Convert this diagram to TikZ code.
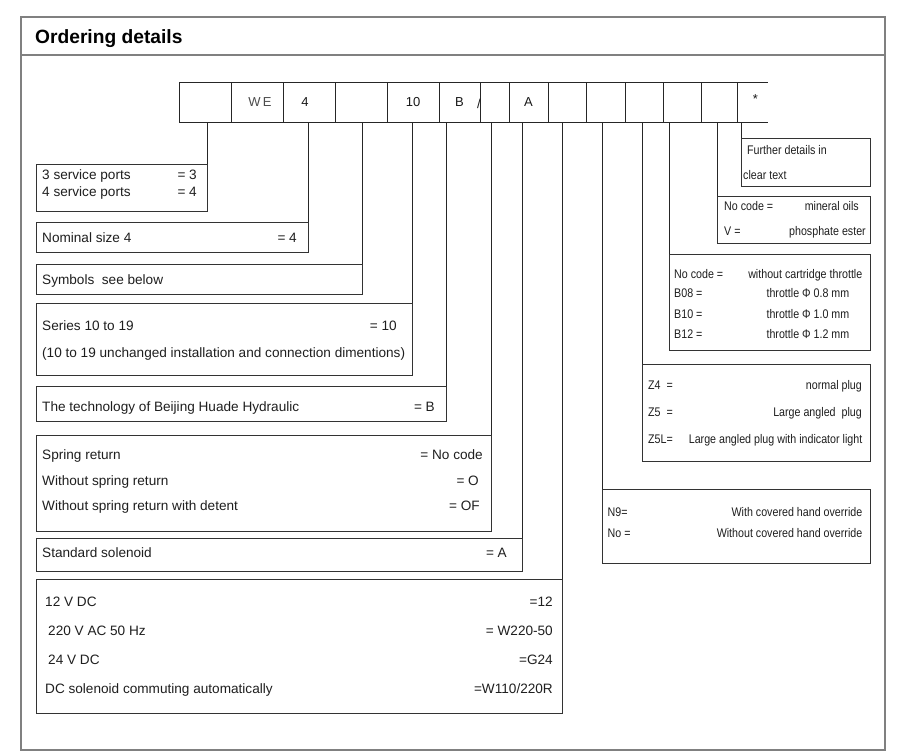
\documentclass[tikz,border=0pt]{standalone}
\usepackage{fontspec}
\setmainfont{Liberation Sans}
\newfontfamily\narrowfont{Liberation Sans}[FakeStretch=0.855]
\begin{document}
\begin{tikzpicture}[x=1pt,y=-1pt,
  frame/.style={draw=black!50, line width=1.3pt},
  box/.style={draw=black!80, line width=0.95pt, anchor=north west, inner sep=0pt, outer sep=0pt},
  cell/.style={draw=black!85, line width=0.8pt, anchor=north west, inner sep=0pt, outer sep=0pt, minimum height=40pt},
  conn/.style={draw=black!85, line width=0.8pt},
  ctext/.style={inner sep=0pt, font=\fontsize{13}{15}\selectfont, text=black!90},
  L/.style={inner sep=0pt, anchor=base west, yshift=-4.7pt, font=\fontsize{13.6}{16}\selectfont, text=black!88},
  R/.style={L, anchor=base east},
  NL/.style={inner sep=0pt, anchor=base west, yshift=-4.3pt, font=\narrowfont\fontsize{12.5}{15}\selectfont, text=black!88},
  NR/.style={NL, anchor=base east}]
\useasboundingbox (0,0) rectangle (913,753);
\fill[white] (0,0) rectangle (913,753);
% outer frame
\draw[frame] (21,17) rectangle (885,750);
\draw[frame] (21,55) -- (885,55);
\node[anchor=west, inner sep=0pt, font=\bfseries\fontsize{19.2}{22}\selectfont] (title) at (35,39) {Ordering details};
% code row
\node[cell, minimum width=52pt] (k1) at (179,82) {};
\node[cell, minimum width=52pt] (k2) at (k1.north east) {};
\node[cell, minimum width=52pt] (k3) at (k2.north east) {};
\node[cell, minimum width=52pt] (k4) at (k3.north east) {};
\node[cell, minimum width=52pt] (k5) at (k4.north east) {};
\node[cell, minimum width=41pt] (k6) at (k5.north east) {};
\node[cell, minimum width=29pt] (k7) at (k6.north east) {};
\node[cell, minimum width=39pt] (k8) at (k7.north east) {};
\node[cell, minimum width=38pt] (k9) at (k8.north east) {};
\node[cell, minimum width=39pt] (k10) at (k9.north east) {};
\node[cell, minimum width=38pt] (k11) at (k10.north east) {};
\node[cell, minimum width=38pt] (k12) at (k11.north east) {};
\node[cell, minimum width=36pt] (k13) at (k12.north east) {};
\node[cell, draw=none, minimum width=31pt] (k14) at (k13.north east) {};
\draw[conn] (k14.north west) -- (k14.north east);
\draw[conn] (k14.south west) -- (k14.south east);
\node[ctext, text=black!70] (tWE) at ([xshift=3pt]k2.center) {W\,E};
\node[ctext] (t4) at ([xshift=-4pt]k3.center) {4};
\node[ctext] (t10) at (k5.center) {10};
\node[ctext] (tB) at (k6.center) {B};
\node[ctext] (tsl) at (479,103.5) {/};
\node[ctext] (tA) at (k8.center) {A};
\node[ctext] (tst) at ([xshift=3pt,yshift=3pt]k14.center) {*};
% left boxes
\node[box, minimum width=171pt, minimum height=47pt] (b1) at (36,164) {};
\node[box, minimum width=272pt, minimum height=30pt] (b2) at (36,222) {};
\node[box, minimum width=326pt, minimum height=30pt] (b3) at (36,264) {};
\node[box, minimum width=376pt, minimum height=72pt] (b4) at (36,303) {};
\node[box, minimum width=410pt, minimum height=35pt] (b5) at (36,386) {};
\node[box, minimum width=455pt, minimum height=96pt] (b6) at (36,435) {};
\node[box, minimum width=486pt, minimum height=33pt] (b7) at (36,538) {};
\node[box, minimum width=526pt, minimum height=134pt] (b8) at (36,579) {};
% right boxes
\node[box, minimum width=129pt, minimum height=48pt] (r1) at (741,138) {};
\node[box, minimum width=153pt, minimum height=47pt] (r2) at (717,196) {};
\node[box, minimum width=201pt, minimum height=96pt] (r3) at (669,254) {};
\node[box, minimum width=228pt, minimum height=97pt] (r4) at (642,364) {};
\node[box, minimum width=268pt, minimum height=74pt] (r5) at (602,489) {};
% connector start points
\coordinate (p1) at (207,122);
\coordinate (p2) at (308,122);
\coordinate (p3) at (362,122);
\coordinate (p4) at (412,122);
\coordinate (p5) at (446,122);
\coordinate (p6) at (491,122);
\coordinate (p7) at (522,122);
\coordinate (p8) at (562,122);
\coordinate (q5) at (602,122);
\coordinate (q4) at (642,122);
\coordinate (q3) at (669,122);
\coordinate (q2) at (717,122);
\coordinate (q1) at (741,122);
\draw[conn] (p1) -- (b1.north east);
\draw[conn] (p2) -- (b2.north east);
\draw[conn] (p3) -- (b3.north east);
\draw[conn] (p4) -- (b4.north east);
\draw[conn] (p5) -- (b5.north east);
\draw[conn] (p6) -- (b6.north east);
\draw[conn] (p7) -- (b7.north east);
\draw[conn] (p8) -- (b8.north east);
\draw[conn] (q5) -- (r5.north west);
\draw[conn] (q4) -- (r4.north west);
\draw[conn] (q3) -- (r3.north west);
\draw[conn] (q2) -- (r2.north west);
\draw[conn] (q1) -- (r1.north west);
% left texts
\node[L] (b1a) at (42,175) {3 service ports};
\node[R] (b1b) at (197,175) {= 3};
\node[L] (b1c) at (42,191.5) {4 service ports};
\node[R] (b1d) at (197,191.5) {= 4};
\node[L] (b2a) at (42,237.5) {Nominal size 4};
\node[R] (b2b) at (297,237.5) {= 4};
\node[L] (b3a) at (42,279.5) {Symbols~ see below};
\node[L] (b4a) at (42,325.5) {Series 10 to 19};
\node[R] (b4b) at (397,325.5) {= 10};
\node[L] (b4c) at (42,353) {(10 to 19 unchanged installation and connection dimentions)};
\node[L] (b5a) at (42,407) {The technology of Beijing Huade Hydraulic};
\node[R] (b5b) at (435,407) {= B};
\node[L] (b6a) at (42,455) {Spring return};
\node[R] (b6b) at (483,455) {= No code};
\node[L] (b6c) at (42,480.5) {Without spring return};
\node[R] (b6d) at (479,480.5) {= O};
\node[L] (b6e) at (42,506) {Without spring return with detent};
\node[R] (b6f) at (480,506) {= OF};
\node[L] (b7a) at (42,553) {Standard solenoid};
\node[R] (b7b) at (507,553) {= A};
\node[L] (b8a) at (45,602) {12 V DC};
\node[R] (b8b) at (553,602) {=12};
\node[L] (b8c) at (48,631) {220 V AC 50 Hz};
\node[R] (b8d) at (553,631) {= W220-50};
\node[L] (b8e) at (48,660) {24 V DC};
\node[R] (b8f) at (553,660) {=G24};
\node[L] (b8g) at (45,689) {DC solenoid commuting automatically};
\node[R] (b8h) at (553,689) {=W110/220R};
% right texts
\node[NL] (r1a) at (747,150) {Further details in};
\node[NL] (r1b) at (743,175) {clear text};
\node[NL] (r2a) at (724,206) {No code =};
\node[NR] (r2b) at (859,206) {mineral oils};
\node[NL] (r2c) at (724,231.5) {V =};
\node[NR] (r2d) at (866,231.5) {phosphate ester};
\node[NL] (r3a) at (674,274) {No code =};
\node[NR] (r3b) at (862.5,274) {without cartridge throttle};
\node[NL] (r3c) at (674,293.5) {B08 =};
\node[NR] (r3d) at (849.5,293.5) {throttle Φ 0.8 mm};
\node[NL] (r3e) at (674,314) {B10 =};
\node[NR] (r3f) at (849.5,314) {throttle Φ 1.0 mm};
\node[NL] (r3g) at (674,334) {B12 =};
\node[NR] (r3h) at (849.5,334) {throttle Φ 1.2 mm};
\node[NL] (r4a) at (648,385) {Z4~ =};
\node[NR] (r4b) at (862,385) {normal plug};
\node[NL] (r4c) at (648,412) {Z5~ =};
\node[NR] (r4d) at (862,412) {Large angled~ plug};
\node[NL] (r4e) at (648,439) {Z5L=};
\node[NR] (r4f) at (862.5,439) {Large angled plug with indicator light};
\node[NL] (r5a) at (607.5,512.5) {N9=};
\node[NR] (r5b) at (862.5,512.5) {With covered hand override};
\node[NL] (r5c) at (607.5,533.5) {No =};
\node[NR] (r5d) at (862.5,533.5) {Without covered hand override};
\end{tikzpicture}
\end{document}
